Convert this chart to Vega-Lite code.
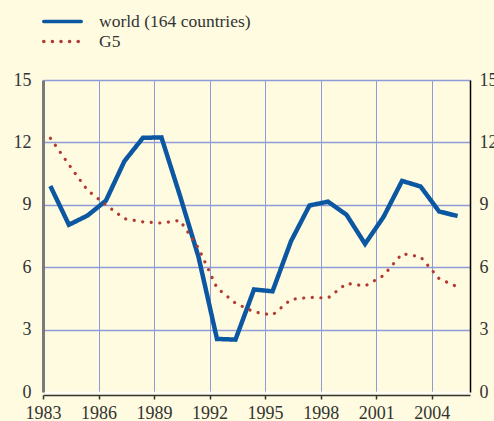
{
  "$schema": "https://vega.github.io/schema/vega-lite/v6.json",
  "autosize": {"type": "none"},
  "width": 427,
  "height": 312,
  "padding": {"left": 43, "top": 80, "right": 24, "bottom": 29},
  "background": "#fefbe0",
  "config": {
    "view": {"stroke": null},
    "font": "Liberation Serif",
    "axis": {"labelFont": "Liberation Serif", "labelFontSize": 18, "labelColor": "#333333", "title": null}
  },
  "data": {
    "values": [
      {"year": 1983.4, "series": "world (164 countries)", "value": 9.9},
      {"year": 1984.4, "series": "world (164 countries)", "value": 8.04},
      {"year": 1985.4, "series": "world (164 countries)", "value": 8.48},
      {"year": 1986.4, "series": "world (164 countries)", "value": 9.2},
      {"year": 1987.4, "series": "world (164 countries)", "value": 11.1},
      {"year": 1988.4, "series": "world (164 countries)", "value": 12.22},
      {"year": 1989.4, "series": "world (164 countries)", "value": 12.24},
      {"year": 1990.4, "series": "world (164 countries)", "value": 9.44},
      {"year": 1991.4, "series": "world (164 countries)", "value": 6.5},
      {"year": 1992.4, "series": "world (164 countries)", "value": 2.55},
      {"year": 1993.4, "series": "world (164 countries)", "value": 2.52},
      {"year": 1994.4, "series": "world (164 countries)", "value": 4.93},
      {"year": 1995.4, "series": "world (164 countries)", "value": 4.84},
      {"year": 1996.4, "series": "world (164 countries)", "value": 7.25},
      {"year": 1997.4, "series": "world (164 countries)", "value": 8.97},
      {"year": 1998.4, "series": "world (164 countries)", "value": 9.15},
      {"year": 1999.4, "series": "world (164 countries)", "value": 8.52},
      {"year": 2000.4, "series": "world (164 countries)", "value": 7.12},
      {"year": 2001.4, "series": "world (164 countries)", "value": 8.42},
      {"year": 2002.4, "series": "world (164 countries)", "value": 10.15},
      {"year": 2003.4, "series": "world (164 countries)", "value": 9.88},
      {"year": 2004.4, "series": "world (164 countries)", "value": 8.68},
      {"year": 2005.4, "series": "world (164 countries)", "value": 8.46},
      {"year": 1983.4, "series": "G5", "value": 12.2},
      {"year": 1984.4, "series": "G5", "value": 10.93},
      {"year": 1985.4, "series": "G5", "value": 9.7},
      {"year": 1986.4, "series": "G5", "value": 9.0},
      {"year": 1987.4, "series": "G5", "value": 8.33},
      {"year": 1988.4, "series": "G5", "value": 8.18},
      {"year": 1989.4, "series": "G5", "value": 8.12},
      {"year": 1990.4, "series": "G5", "value": 8.25},
      {"year": 1991.4, "series": "G5", "value": 6.92},
      {"year": 1992.4, "series": "G5", "value": 5.0},
      {"year": 1993.4, "series": "G5", "value": 4.27},
      {"year": 1994.4, "series": "G5", "value": 3.85},
      {"year": 1995.4, "series": "G5", "value": 3.7},
      {"year": 1996.4, "series": "G5", "value": 4.45},
      {"year": 1997.4, "series": "G5", "value": 4.55},
      {"year": 1998.4, "series": "G5", "value": 4.52},
      {"year": 1999.4, "series": "G5", "value": 5.22},
      {"year": 2000.4, "series": "G5", "value": 5.1},
      {"year": 2001.4, "series": "G5", "value": 5.6},
      {"year": 2002.4, "series": "G5", "value": 6.65},
      {"year": 2003.4, "series": "G5", "value": 6.5},
      {"year": 2004.4, "series": "G5", "value": 5.45},
      {"year": 2005.4, "series": "G5", "value": 5.05}
    ]
  },
  "encoding": {
    "x": {
      "field": "year", "type": "quantitative",
      "scale": {"domain": [1983, 2006.07], "nice": false, "zero": false},
      "axis": {
        "values": [1983, 1986, 1989, 1992, 1995, 1998, 2001, 2004],
        "format": "d", "grid": true, "gridColor": "#8e9bd8", "gridWidth": 1,
        "domainColor": "#333333", "domainWidth": 1.5, "offset": 3,
        "tickColor": "#333333", "tickSize": 4, "tickWidth": 1.5,
        "labelPadding": 5, "labelFlush": false,
        "labelFont": "Liberation Serif", "labelFontSize": 18
      }
    },
    "color": {
      "field": "series", "type": "nominal",
      "scale": {"domain": ["world (164 countries)", "G5"], "range": ["#0b57a1", "#b23a32"]},
      "legend": {
        "title": null, "orient": "none", "legendX": 10, "legendY": -68,
        "symbolType": "M-2.5,0H2.5", "symbolSize": 225, "symbolStrokeWidth": 3.5,
        "labelFont": "Liberation Serif", "labelFontSize": 17.5, "labelColor": "#333333",
        "labelOffset": 27, "rowPadding": 2,
        "encode": {"symbols": {"update": {"strokeCap": {"value": "round"}}}}
      }
    },
    "strokeDash": {
      "field": "series", "type": "nominal",
      "scale": {"domain": ["world (164 countries)", "G5"], "range": [[1, 0], [0.1, 8.5]]},
      "legend": null
    }
  },
  "layer": [
    {
      "transform": [{"filter": "datum.series == 'world (164 countries)'"}],
      "mark": {"type": "line", "strokeWidth": 4.5, "strokeJoin": "miter"},
      "encoding": {
        "y": {
          "field": "value", "type": "quantitative",
          "scale": {"domain": [0, 15], "nice": false},
          "axis": {
            "orient": "left", "values": [0, 3, 6, 9, 12, 15], "grid": true,
            "gridColor": {"condition": {"test": "datum.value == 0", "value": "#ffffff"}, "value": "#8e9bd8"},
            "gridWidth": 1.5,
            "domainColor": "#7a7a7a", "domainWidth": 3, "ticks": false, "labelPadding": 12,
            "labelFont": "Liberation Serif", "labelFontSize": 18
          }
        }
      }
    },
    {
      "transform": [{"filter": "datum.series == 'G5'"}],
      "mark": {"type": "line", "strokeWidth": 3.2, "strokeCap": "round"},
      "encoding": {
        "y": {
          "field": "value", "type": "quantitative",
          "scale": {"domain": [0, 15], "nice": false},
          "axis": {
            "orient": "right", "values": [0, 3, 6, 9, 12, 15], "grid": false,
            "domainColor": "#000000", "domainWidth": 1.5, "ticks": false, "labelPadding": 9,
            "labelFont": "Liberation Serif", "labelFontSize": 18
          }
        }
      }
    }
  ],
  "resolve": {"scale": {"y": "independent"}}
}
